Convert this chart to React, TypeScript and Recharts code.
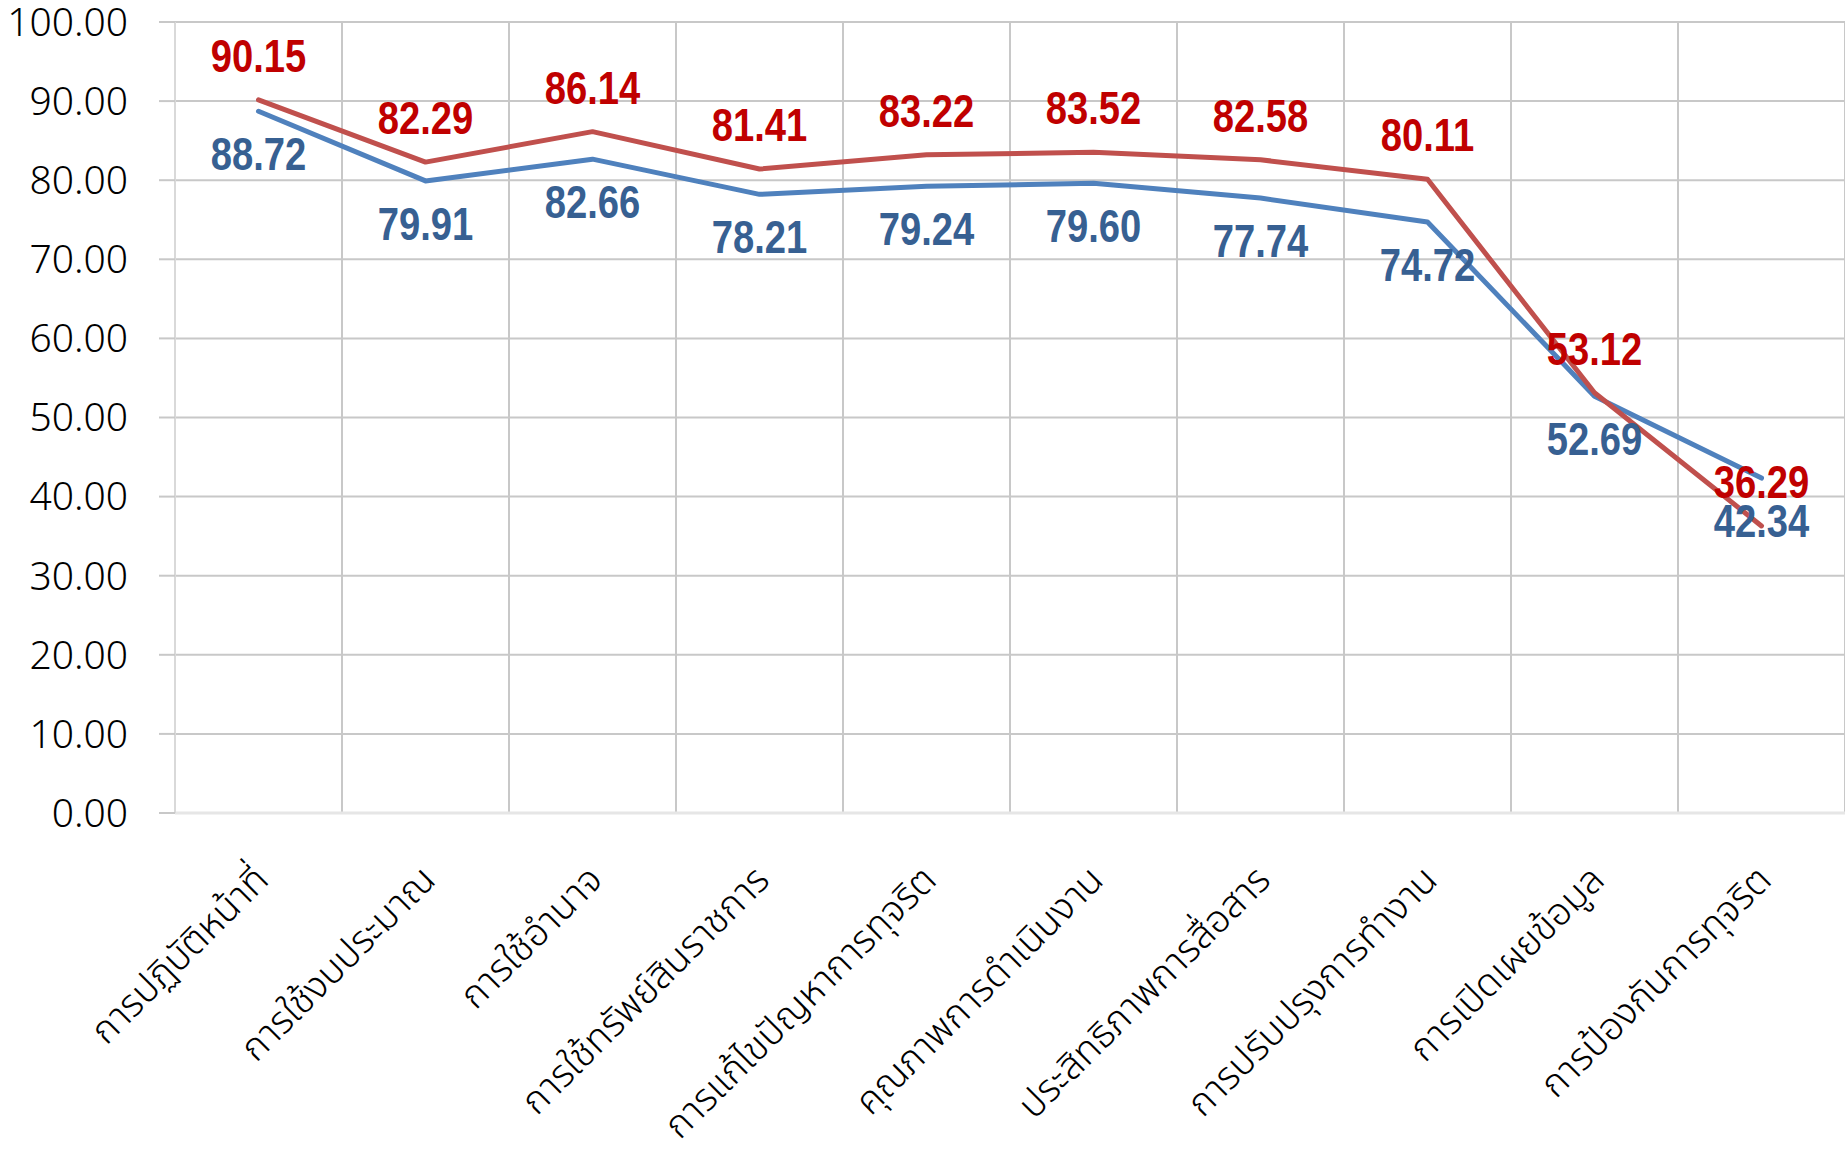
import React from 'react';
import { LineChart, Line, XAxis, YAxis, CartesianGrid, LabelList } from 'recharts';

const categories = [
  'การปฏิบัติหน้าที่',
  'การใช้งบประมาณ',
  'การใช้อำนาจ',
  'การใช้ทรัพย์สินราชการ',
  'การแก้ไขปัญหาการทุจริต',
  'คุณภาพการดำเนินงาน',
  'ประสิทธิภาพการสื่อสาร',
  'การปรับปรุงการทำงาน',
  'การเปิดเผยข้อมูล',
  'การป้องกันการทุจริต',
];

// blue series (labels below the line)
const previousScores = [88.72, 79.91, 82.66, 78.21, 79.24, 79.6, 77.74, 74.72, 52.69, 42.34];
// red series (labels above the line)
const currentScores = [90.15, 82.29, 86.14, 81.41, 83.22, 83.52, 82.58, 80.11, 53.12, 36.29];

const yTicks = [0, 10, 20, 30, 40, 50, 60, 70, 80, 90, 100];

const WIDTH = 1845;
const HEIGHT = 1153;
const Y_AXIS_WIDTH = 175;
const BAND = (WIDTH - Y_AXIS_WIDTH) / categories.length;

const data = categories.map((name, i) => ({
  name,
  previous: previousScores[i],
  current: currentScores[i],
}));

const THAI_FONT = "'Noto Sans Thai', 'Noto Sans', 'DejaVu Sans', sans-serif";
const LABEL_FONT = "'Liberation Sans', Arial, sans-serif";

const fmt = (v: any) => Number(v).toFixed(2);

const CategoryTick = ({ x, y, payload }: any) => (
  <g transform={`translate(${x + 12},${y + 69})`}>
    <text
      transform="rotate(-45)"
      textAnchor="end"
      fill="#000"
      fontSize={38}
      fontWeight={300}
      fontFamily={THAI_FONT}
    >
      {payload.value}
    </text>
  </g>
);

// narrow bold value label (squeezed horizontally like Arial Narrow)
const valueLabel = (color: string, above: boolean) => (props: any) => {
  const { x, y, value } = props;
  if (x == null || y == null) return null;
  const ty = above ? y - 28 : y + 59;
  return (
    <text
      transform={`translate(${x},${ty}) scale(0.83,1)`}
      textAnchor="middle"
      fill={color}
      fontSize={46}
      fontWeight={700}
      fontFamily={LABEL_FONT}
    >
      {fmt(value)}
    </text>
  );
};

export default function App() {
  return (
    <div style={{ position: 'absolute', left: 0, top: 0, background: '#fff' }}>
      <LineChart
        width={WIDTH}
        height={HEIGHT}
        data={data}
        margin={{ top: 22, right: 0, bottom: 0, left: 0 }}
      >
        <CartesianGrid
          stroke="#c8c8c8"
          strokeWidth={2}
          verticalCoordinatesGenerator={({ offset }: any) =>
            Array.from({ length: categories.length + 1 }, (_, i) => offset.left + (i * offset.width) / categories.length)
          }
        />
        <XAxis
          dataKey="name"
          height={HEIGHT - 22 - 791}
          padding={{ left: BAND / 2, right: BAND / 2 }}
          interval={0}
          tickSize={0}
          tickMargin={0}
          tickLine={false}
          axisLine={{ stroke: '#e6e6e6', strokeWidth: 3 }}
          tick={<CategoryTick />}
        />
        <YAxis
          width={Y_AXIS_WIDTH}
          type="number"
          domain={[0, 100]}
          ticks={yTicks}
          interval={0}
          tickFormatter={fmt}
          tickSize={16}
          tickMargin={31}
          tickLine={{ stroke: '#c8c8c8', strokeWidth: 2 }}
          axisLine={{ stroke: '#d9d9d9', strokeWidth: 2 }}
          tick={{ fill: '#000', fontSize: 39, fontWeight: 300, fontFamily: "'Noto Sans', sans-serif" }}
        />
        {/* labels first so the lines sit over them */}
        <Line dataKey="previous" stroke="none" dot={false} activeDot={false} isAnimationActive={false} legendType="none">
          <LabelList dataKey="previous" content={valueLabel('#376092', false)} />
        </Line>
        <Line dataKey="current" stroke="none" dot={false} activeDot={false} isAnimationActive={false} legendType="none">
          <LabelList dataKey="current" content={valueLabel('#C00000', true)} />
        </Line>
        <Line
          type="linear"
          dataKey="previous"
          stroke="#4F81BD"
          strokeWidth={5}
          strokeLinejoin="round"
          strokeLinecap="round"
          dot={false}
          activeDot={false}
          isAnimationActive={false}
        />
        <Line
          type="linear"
          dataKey="current"
          stroke="#C0504D"
          strokeWidth={5}
          strokeLinejoin="round"
          strokeLinecap="round"
          dot={false}
          activeDot={false}
          isAnimationActive={false}
        />
      </LineChart>
    </div>
  );
}
